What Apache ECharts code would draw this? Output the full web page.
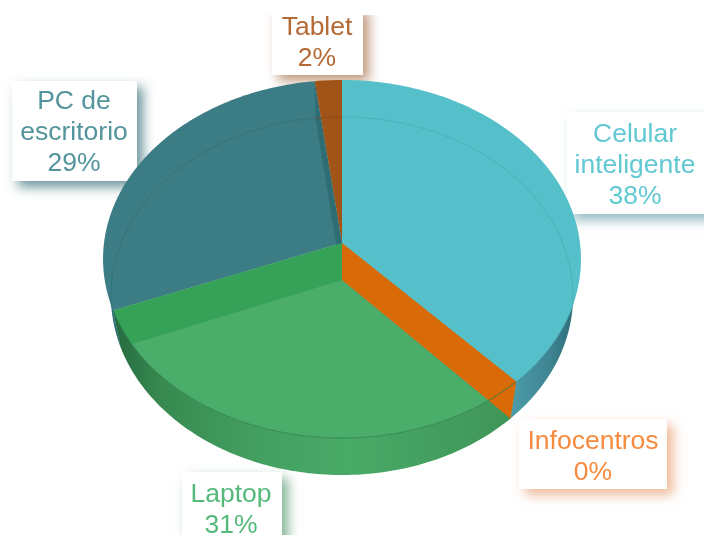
<!DOCTYPE html>
<html>
<head>
<meta charset="utf-8">
<script src="https://cdn.jsdelivr.net/npm/echarts@6/dist/echarts.min.js"></script>
<style>
html,body{margin:0;padding:0;background:#fff;}
#main{width:704px;height:535px;}
</style>
</head>
<body>
<div id="main"></div>
<script>
// datos
var categories=['Celular\ninteligente','Infocentros','Laptop','PC de\nescritorio','Tablet'];
var values=[38,0,31,29,2];

// estilos por categoria
var topColors=['#55c0ca','#d86b07','#4aad69','#3c7c84','#a05418'];
var sideColors=['#4aa3b0','#d86b07','#36a257','#2f6d75','#8d4a15'];
var lineColors=['#45aab4','#c8640a','#2c7f4c','#2f6d75','#8a4712'];
var textColors=['#62c9d3','#f78a3c','#55b97b','#54949c','#b56a35'];
var shadowColors=['rgba(70,140,150,0.6)','rgba(225,130,70,0.55)','rgba(50,130,80,0.6)','rgba(45,105,115,0.7)','rgba(150,85,40,0.6)'];
// caja de cada etiqueta: x,y,ancho,alto
var labelBoxes=[[567,112,150,102],[519,419,148,70],[182,472,100,80],[12,81,125,100],[272,5,91,70]];
var labelCenters=[[635,166],[593,457],[231,510],[74,133],[317,43]];

// geometria del pastel en perspectiva
var cx=342,apexY=243,depth=37;
var radius=238,persp=0.0893,flat=177.6,lowerScale=0.967;

function project(deg,lower){
	var r=deg*Math.PI/180;
	var d=1+persp*Math.cos(r);
	var x=radius*Math.sin(r)/d*(lower?lowerScale:1);
	var y=-flat*Math.cos(r)/d+(lower?depth:0);
	return [cx+x,apexY+y];
}
function arc(t0,t1,lower){
	var pts=[];
	var n=Math.max(2,Math.ceil(Math.abs(t1-t0)));
	for(var i=0;i<=n;i++){
		pts.push(project(t0+(t1-t0)*i/n,lower));
	}
	return pts;
}
function outsideTop(p){
	var dx=(p[0]-cx)/239,dy=(p[1]-259)/179;
	return dx*dx+dy*dy>1;
}

// donde el borde inferior sale de la cara superior
var bottomCross=90;
while(bottomCross<180 && !outsideTop(project(bottomCross,true))){
	bottomCross+=0.25;
}
var crossPoint=project(bottomCross,true);
var topCross=90,bestDist=1e9;
for(var t=60;t<150;t+=0.25){
	var q=project(t,false);
	var dist=Math.pow(q[0]-crossPoint[0],2)+Math.pow(q[1]-crossPoint[1],2);
	if(dist<bestDist){bestDist=dist;topCross=t;}
}

var total=0;
for(var k=0;k<values.length;k++){total+=values[k];}

function wallGradient(i){
	if(i==0){
		return new echarts.graphic.LinearGradient(505,0,578,0,[
			{offset:0,color:'#4f9fae'},{offset:0.6,color:'#3f8593'},{offset:1,color:'#2c6a77'}
		],true);
	}
	if(i==2){
		return new echarts.graphic.LinearGradient(112,0,510,0,[
			{offset:0,color:'#24693f'},{offset:0.12,color:'#37894f'},{offset:0.35,color:'#439f60'},
			{offset:0.6,color:'#49aa67'},{offset:1,color:'#3f9558'}
		],true);
	}
	return sideColors[i];
}

function renderSlice(params,api){
	var i=params.dataIndex;
	var before=0;
	for(var j=0;j<i;j++){before+=values[j];}
	var t0=before/total*360;
	var t1=(before+api.value(0))/total*360;
	var children=[];
	var box=labelBoxes[i];

	// etiqueta, queda debajo del pastel
	children.push({
		type:'rect',z2:0,
		shape:{x:box[0],y:box[1],width:box[2],height:box[3]},
		style:{fill:'#fff',shadowBlur:11,shadowOffsetX:6,shadowOffsetY:6,shadowColor:shadowColors[i]}
	});
	children.push({
		type:'text',z2:1,
		style:{
			text:categories[i]+'\n'+api.value(0)+'%',
			x:labelCenters[i][0],y:labelCenters[i][1],
			align:'center',verticalAlign:'middle',
			font:'26.5px "Liberation Sans"',lineHeight:31,fill:textColors[i]
		}
	});

	// cara superior
	if(t1>t0){
		children.push({
			type:'polygon',z2:10,
			shape:{points:[[cx,apexY]].concat(arc(t0,t1,false))},
			style:{fill:topColors[i]}
		});
	}

	// pared interior al final de la porcion
	children.push({
		type:'polygon',z2:values[i]==0?40:20-i,
		shape:{points:[[cx,apexY],project(t1,false),project(t1,true),[cx,apexY+depth]]},
		style:{fill:sideColors[i]}
	});

	// pared exterior, solo el frente
	var a0=Math.max(t0,topCross),a1=Math.min(t1,360-topCross);
	var b0=Math.max(t0,bottomCross),b1=Math.min(t1,360-bottomCross);
	if(a1>a0 && b1>b0){
		children.push({
			type:'polygon',z2:30,
			shape:{points:arc(a0,a1,false).concat(arc(b1,b0,true))},
			style:{fill:wallGradient(i)}
		});
	}
	if(a1>a0){
		children.push({
			type:'polyline',z2:50,
			shape:{points:arc(a0,a1,false)},
			style:{stroke:lineColors[i],fill:null,lineWidth:1,opacity:0.85}
		});
	}

	// borde inferior visto a traves de la cara superior
	var c0=Math.min(t1,bottomCross);
	if(c0>t0){
		children.push({
			type:'polyline',z2:25,
			shape:{points:arc(t0,c0,true)},
			style:{stroke:lineColors[i],fill:null,lineWidth:1,opacity:0.7}
		});
	}
	var c1=Math.max(t0,360-bottomCross);
	if(t1>c1){
		children.push({
			type:'polyline',z2:25,
			shape:{points:arc(c1,t1,true)},
			style:{stroke:lineColors[i],fill:null,lineWidth:1,opacity:0.7}
		});
	}
	return {type:'group',children:children};
}

var chart=echarts.init(document.getElementById('main'),null,{renderer:'canvas'});
chart.setOption({
	backgroundColor:'#ffffff',
	animation:false,
	graphic:[{
		type:'rect',z:100,left:0,top:0,
		shape:{width:704,height:15},
		style:{fill:'#fff'}
	}],
	series:[{
		type:'custom',
		coordinateSystem:'none',
		silent:true,
		clip:false,
		renderItem:renderSlice,
		data:values.map(function(v){return [v];})
	}]
});
</script>
</body>
</html>
